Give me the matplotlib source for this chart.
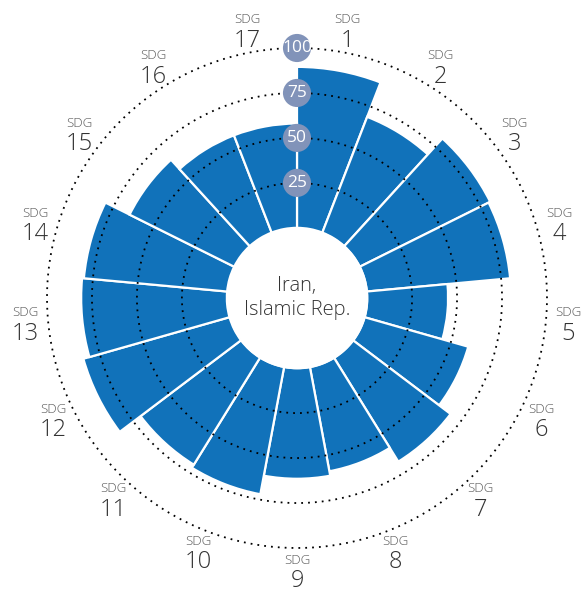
import numpy as np
import matplotlib.pyplot as plt

# SDG scores
goals = [f"{i}" for i in range(1, 18)]
scores = [89.5, 69, 81, 80, 45, 60, 68, 59, 61.5, 72, 70, 84.5, 81, 80, 65, 58, 58]
ring_values = [25, 50, 75, 100]
country = "Iran,\nIslamic Rep."

BLUE = "#1172ba"
RING_BADGE = "#8193b9"
HOLE = 39.0          # radius of the empty centre, in score units
LABEL_R = 151.5      # where the "SDG n" labels sit

plt.rcParams["font.family"] = ["Open Sans", "DejaVu Sans"]

fig = plt.figure(figsize=(5.84, 5.94), dpi=100)
ax = fig.add_axes([47 / 584, 46 / 594, 500 / 584, 500 / 594], projection="polar")
ax.set_theta_zero_location("N")
ax.set_theta_direction(-1)
ax.set_ylim(0, HOLE + 100)
ax.axis("off")

n = len(goals)
width = 2 * np.pi / n
theta = np.arange(n) * width + width / 2

ax.bar(theta, scores, width=width, bottom=HOLE, color=BLUE,
       edgecolor="white", linewidth=1.6, zorder=2)

# dotted rings
t = np.linspace(0, 2 * np.pi, 800)
for v in ring_values:
    ax.plot(t, np.full_like(t, HOLE + v), color="black", clip_on=False,
            linestyle=(0, (1, 2.8)), linewidth=1.3, zorder=3)

# white hole
ax.fill_between(t, 0, HOLE, color="white", zorder=4)
ax.text(0, 0, country, ha="center", va="center", fontsize=14.5, fontweight="light",
        color="#333333", linespacing=1.25, zorder=5)

# ring value badges (fixed-size circles)
ax.scatter(np.zeros(len(ring_values)), HOLE + np.array(ring_values), s=410,
           color=RING_BADGE, edgecolors="none", zorder=6, clip_on=False)
for v in ring_values:
    ax.text(0, HOLE + v, str(v), ha="center", va="center", fontsize=12.5,
            color="white", zorder=7)

# goal labels
for th, g in zip(theta, goals):
    ax.annotate("SDG", xy=(th, LABEL_R), xytext=(0, 7.5), textcoords="offset points",
                ha="center", va="center", fontsize=9.5, fontweight="light",
                color="#555555", annotation_clip=False)
    ax.annotate(g, xy=(th, LABEL_R), xytext=(0, -7.5), textcoords="offset points",
                ha="center", va="center", fontsize=17, fontweight="light",
                color="#333333", annotation_clip=False)

fig.savefig("out.png", dpi=100)
